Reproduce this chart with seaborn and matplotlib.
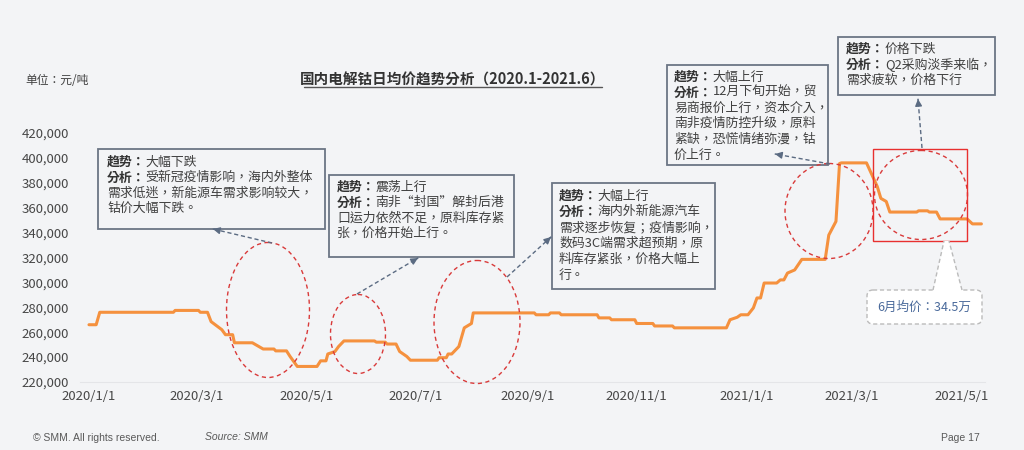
import pandas as pd
import matplotlib
matplotlib.use("Agg")
import matplotlib.pyplot as plt
import seaborn as sns
from matplotlib.patches import Ellipse, Rectangle, FancyBboxPatch, Polygon

# %% data (breakpoints of the daily average price, yuan/ton)
dates = [
    "2020-01-01", "2020-01-05", "2020-01-07", "2020-02-17", "2020-02-18", "2020-03-02",
    "2020-03-03", "2020-03-07", "2020-03-09", "2020-03-15", "2020-03-17", "2020-03-21",
    "2020-03-22", "2020-04-01", "2020-04-07", "2020-04-13", "2020-04-14", "2020-04-20",
    "2020-04-22", "2020-04-26", "2020-05-07", "2020-05-09", "2020-05-12", "2020-05-13",
    "2020-05-17", "2020-05-19", "2020-05-22", "2020-06-08", "2020-06-09", "2020-06-14",
    "2020-06-15", "2020-06-20", "2020-06-22", "2020-06-26", "2020-06-28", "2020-07-13",
    "2020-07-14", "2020-07-18", "2020-07-19", "2020-07-21", "2020-07-25", "2020-07-26",
    "2020-07-28", "2020-08-01", "2020-08-02", "2020-09-05", "2020-09-06", "2020-09-13",
    "2020-09-14", "2020-09-19", "2020-09-20", "2020-10-10", "2020-10-11", "2020-10-17",
    "2020-10-18", "2020-10-31", "2020-11-01", "2020-11-10", "2020-11-11", "2020-11-21",
    "2020-11-22", "2020-12-21", "2020-12-23", "2020-12-27", "2020-12-29", "2021-01-02",
    "2021-01-05", "2021-01-07", "2021-01-09", "2021-01-11", "2021-01-18", "2021-01-20",
    "2021-01-22", "2021-01-24", "2021-01-28", "2021-02-01", "2021-02-14", "2021-02-16",
    "2021-02-20", "2021-02-22", "2021-02-23", "2021-03-09", "2021-03-15", "2021-03-17",
    "2021-03-20", "2021-03-22", "2021-04-06", "2021-04-07", "2021-04-12", "2021-04-13",
    "2021-04-17", "2021-04-19", "2021-05-04", "2021-05-07", "2021-05-12",
]
prices = [
    266000, 266000, 276000, 276000, 277500, 277500,
    276000, 276000, 268500, 262000, 258000, 258000,
    251500, 251500, 246500, 246500, 245000, 245000,
    240500, 232500, 232500, 237000, 237000, 242500,
    244500, 248500, 253000, 253000, 252000, 252000,
    250500, 250500, 244500, 240500, 237500, 237500,
    239500, 239500, 242500, 242500, 248500, 253500,
    263500, 267000, 275500, 275500, 274000, 274000,
    275500, 275500, 274000, 274000, 271500, 271500,
    270000, 270000, 267000, 267000, 265000, 265000,
    263500, 263500, 270000, 272000, 274000, 274000,
    279500, 287500, 287500, 299500, 299500, 302000,
    302000, 307500, 310000, 318500, 318500, 338000,
    349000, 395500, 396000, 396000, 377000, 367500,
    365000, 356500, 356500, 357500, 357500, 356500,
    356500, 351000, 351000, 347000, 347000,
]
tick_dates = ["2020-01-01", "2020-03-01", "2020-05-01", "2020-07-01", "2020-09-01",
              "2020-11-01", "2021-01-01", "2021-03-01", "2021-05-01"]
tick_labels = ["2020/1/1", "2020/3/1", "2020/5/1", "2020/7/1", "2020/9/1",
               "2020/11/1", "2021/1/1", "2021/3/1", "2021/5/1"]
y_ticks = list(range(220000, 420001, 20000))

# annotation boxes: (left, top, right, bottom, text x, first line y, line step, lines)
boxes = [
    (98, 149, 325, 229, 107, 162, 15.4,
     [("趋势：", "大幅下跌"), ("分析：", "受新冠疫情影响，海内外整体"),
      ("", "需求低迷，新能源车需求影响较大，"), ("", "钴价大幅下跌。")]),
    (329, 175, 514, 257, 337, 187, 15.5,
     [("趋势：", "震荡上行"), ("分析：", "南非“封国”解封后港"),
      ("", "口运力依然不足，原料库存紧"), ("", "张，价格开始上行。")]),
    (552, 183, 715, 289, 559, 196, 15.8,
     [("趋势：", "大幅上行"), ("分析：", "海内外新能源汽车"),
      ("", "需求逐步恢复；疫情影响，"), ("", "数码3C端需求超预期，原"),
      ("", "料库存紧张，价格大幅上"), ("", "行。")]),
    (667, 65, 828, 165, 674, 77, 15.6,
     [("趋势：", "大幅上行"), ("分析：", "12月下旬开始，贸"),
      ("", "易商报价上行，资本介入，"), ("", "南非疫情防控升级，原料"),
      ("", "紧缺，恐慌情绪弥漫，钴"), ("", "价上行。")]),
    (838, 37, 995, 95, 846, 49, 15.5,
     [("趋势：", "价格下跌"), ("分析：", "Q2采购淡季来临，"), ("", "需求疲软，价格下行")]),
]
ellipses = [(268, 310, 83, 135), (358, 334, 55, 79), (477, 322, 86, 123),
            (829, 211, 88, 95), (921, 195, 93, 89)]
arrows = [((272, 243), (213, 229)), ((357, 294), (418, 258)), ((507, 277), (551, 237)),
          ((830, 164), (775, 154)), ((922, 148), (918, 99))]

W, H = 1024, 450
BG = "#F3F4F6"
TXT = "#404040"

sns.set_theme(style="white")
plt.rcParams["font.family"] = ["Noto Sans CJK SC", "DejaVu Sans"]
box_font = ["Noto Sans CJK TC", "DejaVu Sans"]

fig = plt.figure(figsize=(W / 100, H / 100), dpi=100, facecolor=BG)
ax = fig.add_axes([80 / W, 1 - 382 / H, (985 - 80) / W, (382 - 133) / H])
ax.set_facecolor(BG)

df = pd.DataFrame({"date": pd.to_datetime(dates), "price": prices})
sns.lineplot(data=df, x="date", y="price", ax=ax, color="#F5913E", linewidth=2.2)

ax.set_ylim(220000, 420000)
ax.set_yticks(y_ticks)
ax.set_yticklabels([f"{v:,}" for v in y_ticks])
ax.set_xlim(pd.Timestamp("2019-12-27"), pd.Timestamp("2021-05-14"))
ax.set_xticks(pd.to_datetime(tick_dates))
ax.set_xticklabels(tick_labels)
ax.tick_params(axis="y", length=0, labelsize=9.5, colors="#474747", pad=8)
ax.tick_params(axis="x", length=0, labelsize=9.5, colors="#474747", pad=6)
ax.set_xlabel("")
ax.set_ylabel("")
for s in ["top", "right", "left"]:
    ax.spines[s].set_visible(False)
ax.spines["bottom"].set_color("#E4E5E8")
ax.spines["bottom"].set_linewidth(0.8)

# overlay in pixel coordinates for the annotations
ov = fig.add_axes([0, 0, 1, 1])
ov.set_xlim(0, W)
ov.set_ylim(H, 0)
ov.axis("off")
ov.patch.set_alpha(0)

ov.text(25, 81, "单位：元/吨", fontsize=8.5, color=TXT, va="center", family=box_font)
ov.text(453, 80, "国内电解钴日均价趋势分析（2020.1-2021.6）", ha="center", va="center",
        fontsize=10.5, fontweight="bold", color="#333333", family=box_font)
ov.plot([304, 602], [87, 87], color="#555555", lw=1)

em = 9.3 * 100 / 72
for left, top, right, bottom, tx, ty, step, lines in boxes:
    ov.add_patch(Rectangle((left, top), right - left, bottom - top, fill=False,
                           ec="#6B7585", lw=1.3))
    for i, (bold, rest) in enumerate(lines):
        y = ty + i * step
        if bold:
            ov.text(tx, y, bold, fontsize=9.3, fontweight="bold", color="#333333",
                    va="center", family=box_font)
        ov.text(tx + (3 * em if bold else 0), y, rest, fontsize=9.3, color=TXT,
                va="center", family=box_font)

for cx, cy, w, h in ellipses:
    ov.add_patch(Ellipse((cx, cy), w, h, fill=False, ec="#D93A3A", lw=1, ls=(0, (3, 2.5))))

ov.add_patch(Rectangle((873, 149), 94, 92, fill=False, ec="#E8302F", lw=1))

for (x0, y0), (x1, y1) in arrows:
    ov.plot([x0, x1], [y0, y1], color="#5B6B82", lw=1, ls=(0, (3, 2)))
    dx, dy = x1 - x0, y1 - y0
    n = (dx ** 2 + dy ** 2) ** 0.5
    ov.annotate("", xy=(x1, y1), xytext=(x1 - dx / n * 3, y1 - dy / n * 3),
                arrowprops=dict(arrowstyle="-|>", color="#5B6B82", lw=1, mutation_scale=10))

# callout with the June average
ov.add_patch(FancyBboxPatch((867, 290), 115, 34, boxstyle="round,pad=0,rounding_size=6",
                            fc="white", ec="#BBBBBB", lw=1, ls=(0, (3, 2))))
ov.add_patch(Polygon([(933, 291.5), (944, 241), (949, 241), (962, 291.5)], closed=True,
                     fc="white", ec="none"))
ov.plot([933, 944], [290, 241], color="#BBBBBB", lw=1, ls=(0, (3, 2)))
ov.plot([962, 949], [290, 241], color="#BBBBBB", lw=1, ls=(0, (3, 2)))
ov.text(924, 307, "6月均价：34.5万", ha="center", va="center", fontsize=9, color="#4A6A9B",
        family=box_font)

foot = ["Liberation Sans Narrow", "Liberation Sans", "DejaVu Sans"]
ov.text(33, 438, "© SMM. All rights reserved.", fontsize=7.5, color="#595959", va="center",
        family=foot)
ov.text(205, 437, "Source: SMM", fontsize=7.5, color="#595959", va="center", style="italic",
        family=foot)
ov.text(980, 438, "Page 17", fontsize=7.5, color="#595959", va="center", ha="right", family=foot)

fig.savefig("out.png", dpi=100, facecolor=BG)
